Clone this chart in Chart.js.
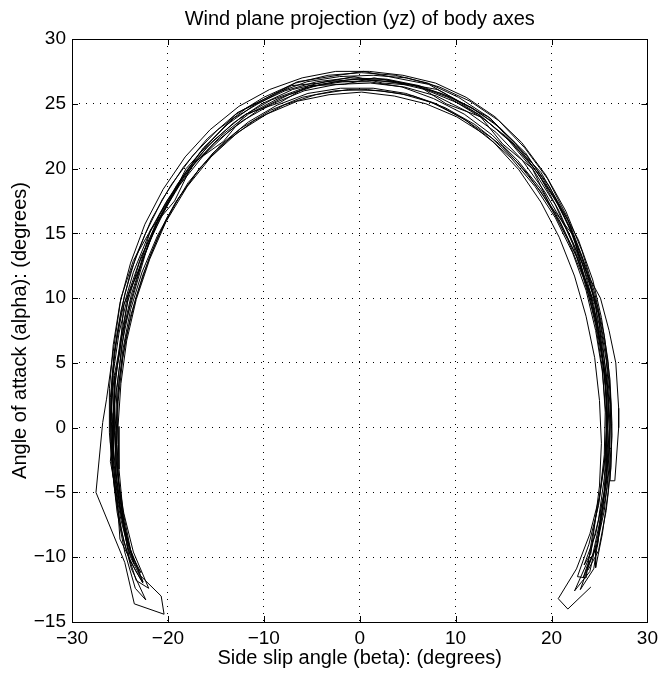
<!DOCTYPE html>
<html>
<head>
<meta charset="utf-8">
<script src="https://cdn.jsdelivr.net/npm/chart.js@4.4.1/dist/chart.umd.min.js"></script>
<style>
  html, body { margin: 0; padding: 0; background: #fff; }
  canvas { display: block; }
</style>
</head>
<body>
<canvas id="myChart" width="663" height="673"></canvas>
<script>
// each swing is one pass over the arc: [beta, alpha] in degrees
const swing01 = [[24.1,-12.3],[21.7,-14.0],[20.7,-13.2],[22.6,-10.9],[24.0,-8.2],[25.0,-5.3],[25.6,-2.2],[25.8,1.0],[25.5,4.2],[24.9,7.3],[23.9,10.4],[22.6,13.2],[20.9,15.9],[18.9,18.4],[16.5,20.6],[13.8,22.6],[10.9,24.2],[7.7,25.4],[4.4,26.3],[1.0,26.7],[-2.5,26.7],[-5.9,26.2],[-9.2,25.3],[-12.3,24.0],[-15.2,22.2],[-17.9,20.0],[-20.2,17.4],[-22.0,15.0],[-23.6,12.9],[-24.9,10.0],[-25.7,5.9],[-26.4,2.2],[-26.8,0.4],[-27.5,-5.0],[-24.5,-10.4],[-23.5,-13.6],[-20.4,-14.4]];
const swing02 = [[-20.7,-13.0],[-22.9,-11.4],[-24.3,-8.7],[-25.2,-5.6],[-25.8,-2.4],[-26.0,0.9],[-25.7,4.2],[-25.1,7.3],[-24.1,10.4],[-22.8,13.2],[-21.0,16.0],[-18.8,18.7],[-16.3,21.0],[-13.6,22.9],[-10.6,24.5],[-7.4,25.7],[-4.1,26.5],[-0.7,26.9],[2.8,26.9],[6.2,26.4],[9.5,25.5],[12.6,24.1],[15.5,22.2],[18.1,19.9],[20.4,17.2],[22.2,14.2],[23.6,11.1],[24.6,7.9],[25.3,4.6],[25.6,1.2],[25.5,-2.1],[25.0,-5.4],[24.2,-8.6],[23.6,-11.6]];
const swing03 = [[22.7,-11.5],[23.9,-9.0],[24.9,-6.0],[25.5,-2.8],[25.8,0.5],[25.6,3.8],[25.0,7.0],[24.1,10.1],[22.7,13.1],[20.9,15.8],[18.8,18.3],[16.4,20.5],[13.7,22.4],[10.7,23.9],[7.5,25.1],[4.2,25.8],[0.8,26.1],[-2.6,26.0],[-6.0,25.5],[-9.3,24.5],[-12.4,23.1],[-15.3,21.2],[-17.9,18.9],[-20.1,16.2],[-21.9,13.2],[-23.3,10.1],[-24.4,6.9],[-25.1,3.6],[-25.4,0.3],[-25.3,-3.0],[-24.8,-6.3],[-24.0,-9.5],[-22.8,-11.2]];
const swing04 = [[-23.6,-10.4],[-24.6,-7.4],[-25.3,-4.2],[-25.8,-0.9],[-25.9,2.5],[-25.6,5.8],[-24.9,9.0],[-23.9,12.0],[-22.4,14.9],[-20.6,17.6],[-18.4,20.1],[-15.9,22.3],[-13.1,24.1],[-10.0,25.5],[-6.7,26.6],[-3.3,27.2],[0.2,27.4],[3.7,27.2],[7.1,26.6],[10.3,25.5],[13.4,24.0],[16.2,22.0],[18.7,19.5],[20.8,16.7],[22.6,13.6],[24.0,10.4],[25.1,7.1],[25.8,3.7],[26.1,0.3],[26.0,-3.1],[25.5,-6.4],[24.6,-9.5],[24.6,-10.8]];
const swing05 = [[25.3,-8.2],[25.9,-5.0],[26.2,-1.6],[26.1,1.8],[25.7,5.2],[25.0,8.4],[23.9,11.5],[22.5,14.4],[20.7,17.2],[18.5,19.7],[16.0,21.9],[13.2,23.7],[10.1,25.1],[6.8,26.1],[3.4,26.7],[-0.1,26.9],[-3.6,26.7],[-7.0,26.1],[-10.2,25.0],[-13.2,23.5],[-16.0,21.6],[-18.5,19.2],[-20.6,16.5],[-22.4,13.5],[-23.8,10.3],[-24.8,7.0],[-25.5,3.6],[-25.8,0.2],[-25.8,-3.2],[-25.3,-6.5],[-24.5,-9.6],[-23.4,-12.4]];
const swing06 = [[-22.3,-13.3],[-23.8,-10.9],[-24.9,-7.8],[-25.6,-4.5],[-26.0,-1.1],[-26.0,2.3],[-25.6,5.7],[-24.8,8.9],[-23.6,12.0],[-22.0,14.9],[-20.0,17.6],[-17.7,20.0],[-15.1,22.0],[-12.2,23.7],[-9.1,25.0],[-5.8,26.0],[-2.4,26.5],[1.1,26.6],[4.6,26.3],[8.0,25.6],[11.2,24.4],[14.2,22.8],[16.9,20.7],[19.3,18.2],[21.8,15.0],[23.7,11.9],[25.1,10.0],[26.0,7.5],[26.7,5.0],[27.0,1.5],[27.0,0.0],[26.6,-4.1]];
const swing07 = [[26.1,-4.1],[26.3,-0.6],[26.1,2.8],[25.6,6.2],[24.8,9.3],[23.6,12.4],[22.0,15.3],[20.1,18.0],[17.8,20.4],[15.2,22.5],[12.3,24.2],[9.2,25.5],[5.9,26.4],[2.5,26.9],[-1.0,27.0],[-4.5,26.7],[-7.8,26.0],[-11.0,24.9],[-14.0,23.3],[-16.7,21.2],[-19.1,18.7],[-21.1,15.9],[-22.7,12.8],[-23.9,9.7],[-24.8,6.4],[-25.3,3.1],[-25.5,-0.2],[-25.4,-3.5],[-24.9,-6.7],[-24.2,-8.9]];
const swing08 = [[-24.7,-7.0],[-25.2,-3.9],[-25.4,-0.6],[-25.2,2.7],[-24.7,6.0],[-23.9,9.1],[-22.7,12.0],[-21.1,14.8],[-19.2,17.4],[-16.9,19.8],[-14.4,21.9],[-11.6,23.6],[-8.6,24.9],[-5.4,25.8],[-2.0,26.2],[1.4,26.2],[4.8,25.8],[8.0,25.0],[11.1,23.7],[14.0,22.0],[16.6,19.9],[18.9,17.4],[20.8,14.7],[22.4,11.7],[23.6,8.6],[24.5,5.4],[25.0,2.1],[25.2,-1.2],[25.0,-4.5],[24.5,-7.5],[24.1,-9.7]];
const swing09 = [[23.4,-10.6],[24.6,-8.2],[25.5,-5.0],[26.0,-1.7],[26.2,1.8],[25.9,5.1],[25.2,8.5],[24.3,11.4],[22.8,14.5],[21.0,17.0],[18.9,19.7],[16.2,21.8],[13.6,23.9],[10.3,25.2],[7.2,26.5],[3.7,27.0],[0.4,27.5],[-3.1,27.1],[-6.5,26.7],[-9.6,25.5],[-12.8,24.3],[-15.4,22.2],[-18.1,20.0],[-20.1,17.1],[-22.0,14.3],[-23.3,11.0],[-24.5,7.9],[-25.1,4.4],[-25.7,1.1],[-25.7,-2.4],[-25.4,-5.6],[-24.6,-8.8],[-23.3,-11.8]];
const swing10 = [[-22.0,-12.4],[-23.6,-9.6],[-24.6,-6.6],[-25.3,-3.4],[-25.6,-0.1],[-25.5,3.3],[-25.0,6.6],[-24.2,9.7],[-23.0,12.7],[-21.4,15.5],[-19.4,18.1],[-17.1,20.5],[-14.5,22.5],[-11.6,24.2],[-8.5,25.4],[-5.2,26.3],[-1.8,26.7],[1.7,26.8],[5.1,26.5],[8.5,25.8],[11.7,24.7],[14.7,23.1],[17.4,21.0],[19.8,18.6],[21.7,15.8],[23.2,12.7],[24.4,9.5],[25.2,6.2],[25.7,2.8],[25.8,-0.6],[25.5,-3.9],[24.9,-7.1],[23.9,-10.1],[22.4,-12.6]];
const swing11 = [[24.0,-11.1],[24.9,-8.1],[25.6,-4.9],[25.9,-1.5],[25.8,1.9],[25.3,5.3],[24.5,8.5],[23.3,11.6],[21.7,14.5],[19.8,17.2],[17.5,19.6],[14.9,21.7],[12.0,23.4],[8.9,24.7],[5.6,25.6],[2.2,26.0],[-1.2,26.1],[-4.6,25.7],[-7.9,24.9],[-11.0,23.7],[-13.9,22.1],[-16.6,20.1],[-19.0,17.6],[-21.0,14.8],[-22.6,11.8],[-23.9,8.6],[-24.7,5.4],[-25.2,2.0],[-25.3,-1.3],[-25.1,-4.6],[-24.5,-7.8],[-23.5,-10.5]];
const swing12 = [[-24.2,-9.3],[-25.0,-6.2],[-25.6,-2.9],[-25.9,0.5],[-25.8,3.9],[-25.3,7.2],[-24.5,10.3],[-23.3,13.3],[-21.7,16.1],[-19.7,18.7],[-17.4,21.0],[-14.8,23.0],[-11.9,24.6],[-8.8,25.8],[-5.5,26.7],[-2.1,27.1],[1.4,27.2],[4.9,27.0],[8.3,26.3],[11.5,25.2],[14.5,23.7],[17.2,21.6],[19.6,19.2],[21.6,16.3],[23.2,13.2],[24.4,10.0],[25.3,6.7],[25.8,3.3],[26.0,-0.1],[25.8,-3.5],[25.2,-6.7],[24.3,-9.8],[23.0,-12.5]];
const swing13 = [[24.4,-10.9],[25.0,-8.0],[25.8,-4.6],[25.7,-1.4],[26.0,2.2],[25.3,5.4],[24.9,8.9],[23.4,11.6],[22.3,14.8],[19.9,17.1],[18.0,20.0],[14.9,21.9],[12.6,24.0],[9.0,25.0],[6.1,26.4],[2.4,26.6],[-0.6,27.1],[-4.2,26.6],[-7.1,26.4],[-10.6,25.0],[-13.1,23.9],[-16.3,21.6],[-18.2,19.6],[-20.9,16.4],[-22.1,13.9],[-24.1,10.3],[-24.6,7.8],[-25.6,4.0],[-25.6,1.0],[-26.0,-2.6],[-25.3,-5.4],[-25.0,-8.6],[-23.4,-11.0],[-22.6,-12.0]];
const swing14 = [[-24.0,-10.2],[-24.6,-7.6],[-25.5,-4.0],[-25.5,-0.8],[-25.8,2.9],[-25.0,5.9],[-24.6,9.5],[-23.1,12.0],[-21.8,15.3],[-19.3,17.5],[-17.4,20.4],[-14.2,22.1],[-11.9,24.2],[-8.3,25.1],[-5.3,26.4],[-1.6,26.5],[1.5,27.0],[5.1,26.5],[8.1,26.1],[11.6,24.7],[14.1,23.5],[17.3,21.2],[19.2,19.1],[21.8,15.9],[22.9,13.3],[24.6,9.7],[24.9,7.1],[25.8,3.3],[25.7,0.2],[26.0,-3.3],[25.2,-6.0],[24.8,-9.1],[23.7,-10.7],[23.3,-11.6]];
const swing15 = [[24.8,-8.9],[25.4,-5.8],[25.7,-2.5],[25.7,0.9],[25.3,4.3],[24.6,7.5],[23.6,10.6],[22.2,13.5],[20.4,16.2],[18.3,18.6],[15.8,20.8],[13.1,22.6],[10.1,24.0],[6.9,25.0],[3.6,25.6],[0.2,25.9],[-3.2,25.7],[-6.5,25.2],[-9.7,24.2],[-12.7,22.8],[-15.5,20.9],[-18.0,18.6],[-20.2,15.9],[-21.9,13.0],[-23.3,9.9],[-24.3,6.7],[-24.9,3.4],[-25.2,0.1],[-25.1,-3.2],[-24.7,-6.4],[-23.9,-9.4],[-22.6,-11.9]];
const swing16 = [[-23.9,-10.0],[-24.9,-7.1],[-25.7,-3.8],[-26.1,-0.4],[-26.1,3.0],[-25.7,6.4],[-25.0,9.6],[-23.9,12.7],[-22.4,15.7],[-20.5,18.4],[-18.2,20.9],[-15.6,23.0],[-12.6,24.8],[-9.4,26.1],[-6.0,27.0],[-2.5,27.5],[1.0,27.5],[4.5,27.2],[7.9,26.6],[11.1,25.5],[14.1,24.0],[16.9,22.0],[19.4,19.5],[21.5,16.7],[23.2,13.6],[24.5,10.4],[25.5,7.1],[26.1,3.7],[26.3,0.3],[26.2,-3.1],[25.7,-6.4],[24.9,-9.5],[23.8,-11.0]];

const swings = [swing01, swing02, swing03, swing04, swing05, swing06, swing07, swing08,
                swing09, swing10, swing11, swing12, swing13, swing14, swing15, swing16];

const xTicks = [-30, -20, -10, 0, 10, 20, 30];
const yTicks = [-15, -10, -5, 0, 5, 10, 15, 20, 25, 30];

const FONT = "'Liberation Sans', Arial, Helvetica, sans-serif";

function minus(v) {
    return String(v).replace('-', '\u2212');
}

// matlab style box with ticks pointing inwards
const boxPlugin = {
    id: 'box',
    afterDraw(chart) {
        const c = chart.ctx;
        const a = chart.chartArea;
        const sx = chart.scales.x;
        const sy = chart.scales.y;
        const len = 6;
        c.save();
        c.strokeStyle = '#000';
        c.lineWidth = 1;
        c.beginPath();
        xTicks.forEach(v => {
            const px = Math.round(sx.getPixelForValue(v)) + 0.5;
            c.moveTo(px, a.bottom); c.lineTo(px, a.bottom - len);
            c.moveTo(px, a.top); c.lineTo(px, a.top + len);
        });
        yTicks.forEach(v => {
            const py = Math.round(sy.getPixelForValue(v)) + 0.5;
            c.moveTo(a.left, py); c.lineTo(a.left + len, py);
            c.moveTo(a.right, py); c.lineTo(a.right - len, py);
        });
        c.stroke();
        c.strokeRect(Math.round(a.left) + 0.5, Math.round(a.top) + 0.5,
                     Math.round(a.right - a.left), Math.round(a.bottom - a.top));
        c.restore();
    }
};

function init() {
    const ctx = document.getElementById('myChart');

    const points = [];
    swings.forEach(s => s.forEach(p => points.push({ x: p[0], y: p[1] })));

    new Chart(ctx, {
        type: 'scatter',
        data: {
            datasets: [{
                data: points,
                showLine: true,
                borderColor: '#000',
                borderWidth: 1,
                pointRadius: 0,
                tension: 0,
                fill: false
            }]
        },
        options: {
            responsive: false,
            animation: false,
            events: [],
            layout: { padding: { top: 0, right: 11, bottom: 0, left: 0 } },
            plugins: {
                legend: { display: false },
                tooltip: { enabled: false },
                title: {
                    display: true,
                    fullSize: false,
                    text: 'Wind plane projection (yz) of body axes',
                    color: '#000',
                    font: { family: FONT, size: 20, weight: 'normal', lineHeight: 1.2 },
                    padding: { top: 7, bottom: 8 }
                }
            },
            scales: {
                x: {
                    type: 'linear',
                    min: -30,
                    max: 30,
                    afterFit(scale) { scale.height = 51; },
                    afterBuildTicks(scale) { scale.ticks = xTicks.map(v => ({ value: v })); },
                    ticks: {
                        color: '#000',
                        font: { family: FONT, size: 19 },
                        padding: 5,
                        maxRotation: 0,
                        callback: v => minus(v)
                    },
                    grid: { color: '#000', lineWidth: 1, drawTicks: false },
                    border: { display: false, dash: [1, 6] },
                    title: {
                        display: true,
                        text: 'Side slip angle (beta): (degrees)',
                        color: '#000',
                        font: { family: FONT, size: 20 },
                        padding: { top: 0, bottom: 3 }
                    }
                },
                y: {
                    type: 'linear',
                    min: -15,
                    max: 30,
                    afterFit(scale) { scale.width = 72; },
                    afterBuildTicks(scale) { scale.ticks = yTicks.map(v => ({ value: v })); },
                    ticks: {
                        color: '#000',
                        font: { family: FONT, size: 19 },
                        padding: 6,
                        callback: v => minus(v)
                    },
                    grid: { color: '#000', lineWidth: 1, drawTicks: false },
                    border: { display: false, dash: [1, 6] },
                    title: {
                        display: true,
                        text: 'Angle of attack (alpha): (degrees)',
                        color: '#000',
                        font: { family: FONT, size: 20 },
                        padding: { top: 8, bottom: 4 }
                    }
                }
            }
        },
        plugins: [boxPlugin]
    });
}

window.onload = () => {
    init();
};
</script>
</body>
</html>
